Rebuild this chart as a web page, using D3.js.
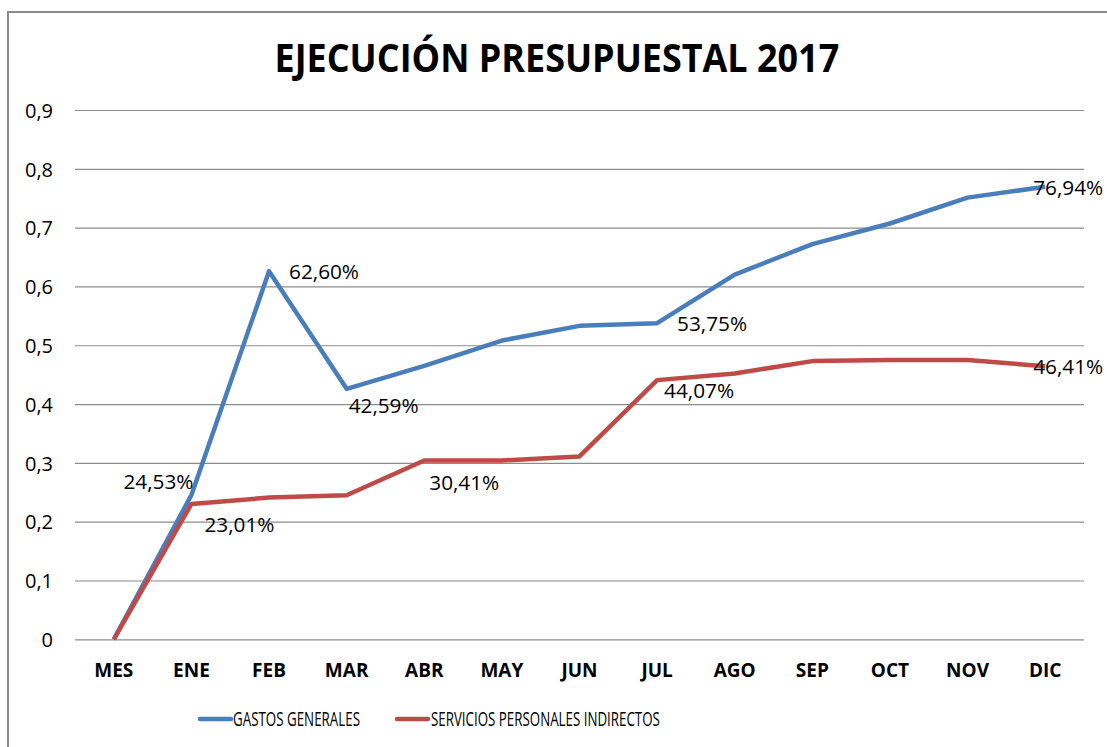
<!DOCTYPE html>
<html>
<head>
<meta charset="utf-8">
<script src="https://cdn.jsdelivr.net/npm/d3@7"></script>
<style>
  body { margin: 0; background: #fff; }
  svg { display: block; }
  text { font-family: "Open Sans", "Noto Sans", sans-serif; fill: #000; }
</style>
</head>
<body>
<svg id="chart" width="1107" height="747"></svg>
<script>
// ---- data ----
const categories = ["MES","ENE","FEB","MAR","ABR","MAY","JUN","JUL","AGO","SEP","OCT","NOV","DIC"];
const gastosGenerales = [0, 0.2453, 0.6260, 0.4259, 0.465, 0.508, 0.533, 0.5375, 0.620, 0.672, 0.707, 0.751, 0.7694];
const serviciosPersonales = [0, 0.2301, 0.241, 0.245, 0.3041, 0.304, 0.311, 0.4407, 0.452, 0.473, 0.475, 0.475, 0.4641];
const yTicks = [0, 0.1, 0.2, 0.3, 0.4, 0.5, 0.6, 0.7, 0.8, 0.9];
const seriesNames = ["GASTOS GENERALES", "SERVICIOS PERSONALES INDIRECTOS"];
const title = "EJECUCIÓN PRESUPUESTAL 2017";
// labelled points: series index, category index
const labelPoints = [
  {s: 0, i: 1}, {s: 1, i: 1}, {s: 0, i: 2}, {s: 0, i: 3}, {s: 1, i: 4},
  {s: 0, i: 7}, {s: 1, i: 7}, {s: 0, i: 12}, {s: 1, i: 12}
];

// ---- layout / style ----
const colors = ["#4a7ebb", "#be4b48"];
const labelOffsets = [
  {dx: 2, dy: -6, anchor: "end"},
  {dx: 13, dy: 28, anchor: "start"},
  {dx: 20, dy: 8, anchor: "start"},
  {dx: 2, dy: 24, anchor: "start"},
  {dx: 5, dy: 30, anchor: "start"},
  {dx: 20, dy: 8, anchor: "start"},
  {dx: 7, dy: 18, anchor: "start"},
  {dx: -12, dy: 8, anchor: "start"},
  {dx: -12, dy: 8, anchor: "start"}
];

const svg = d3.select("#chart");
const plot = {left: 75, right: 1084, top: 110, bottom: 639.3};

// text squeezed horizontally to a target width, keeping glyph height
function fitText(parent, str, xPos, yPos, width, anchor, attrs) {
  const g = parent.append("g");
  const t = g.append("text").attr("x", 0).attr("y", 0).text(str);
  Object.entries(attrs).forEach(([k, v]) => t.attr(k, v));
  const w = t.node().getComputedTextLength();
  const sx = width / w;
  const x0 = anchor === "end" ? xPos - width : anchor === "middle" ? xPos - width / 2 : xPos;
  g.attr("transform", `translate(${x0},${yPos}) scale(${sx},1)`);
  return g;
}

// frame
svg.append("rect").attr("x", 8).attr("y", 12).attr("width", 1120).attr("height", 760)
  .attr("fill", "none").attr("stroke", "#8a8a8a").attr("stroke-width", 2);

// title
fitText(svg, title, 557, 72, 565, "middle", {"font-size": 40, "font-weight": "bold"});

const x = d3.scaleBand().domain(categories).range([plot.left, plot.right]);
const y = d3.scaleLinear().domain([0, 0.9]).range([plot.bottom, plot.top]);
const cx = c => x(c) + x.bandwidth() / 2;

// gridlines + y labels
const yAxis = d3.axisLeft(y).tickValues(yTicks)
  .tickSize(-(plot.right - plot.left)).tickPadding(22)
  .tickFormat(d => d === 0 ? "0" : d3.format(".1f")(d).replace(".", ","));
const gy = svg.append("g").attr("transform", `translate(${plot.left},0)`).call(yAxis);
gy.select(".domain").remove();
gy.selectAll(".tick line").attr("stroke", "#8c8c8c").attr("stroke-width", 1.2);
gy.selectAll(".tick text").attr("font-size", 20).attr("fill", "#000")
  .attr("font-family", "'Open Sans', sans-serif").attr("dy", "0.36em");

// x labels
const xAxis = d3.axisBottom(x).tickSize(0).tickPadding(24);
const gx = svg.append("g").attr("transform", `translate(0,${plot.bottom})`).call(xAxis);
gx.select(".domain").remove();
gx.selectAll(".tick text").attr("font-size", 19).attr("font-weight", "bold").attr("fill", "#000")
  .attr("font-family", "'Open Sans', sans-serif");

// lines
const series = [gastosGenerales, serviciosPersonales];
const line = d3.line().x((d, i) => cx(categories[i])).y(d => y(d));
series.forEach((s, k) => {
  svg.append("path").datum(s).attr("d", line)
    .attr("fill", "none").attr("stroke", colors[k]).attr("stroke-width", 4.5)
    .attr("stroke-linejoin", "round").attr("stroke-linecap", "butt");
});

// data labels
const fmt = v => (v * 100).toFixed(2).replace(".", ",") + "%";
labelPoints.forEach((p, j) => {
  const v = series[p.s][p.i];
  const o = labelOffsets[j];
  fitText(svg, fmt(v), cx(categories[p.i]) + o.dx, y(v) + o.dy, 70, o.anchor,
    {"font-size": 20, "fill": "#1a1a1a"});
});

// legend
const legend = [
  {x1: 200, x2: 231, tx: 233, tw: 127},
  {x1: 397, x2: 428, tx: 431, tw: 229}
];
legend.forEach((l, k) => {
  svg.append("line").attr("x1", l.x1).attr("x2", l.x2).attr("y1", 719).attr("y2", 719)
    .attr("stroke", colors[k]).attr("stroke-width", 4.5).attr("stroke-linecap", "round");
  fitText(svg, seriesNames[k], l.tx, 726, l.tw, "start", {"font-size": 20, "fill": "#1a1a1a"});
});
</script>
</body>
</html>
